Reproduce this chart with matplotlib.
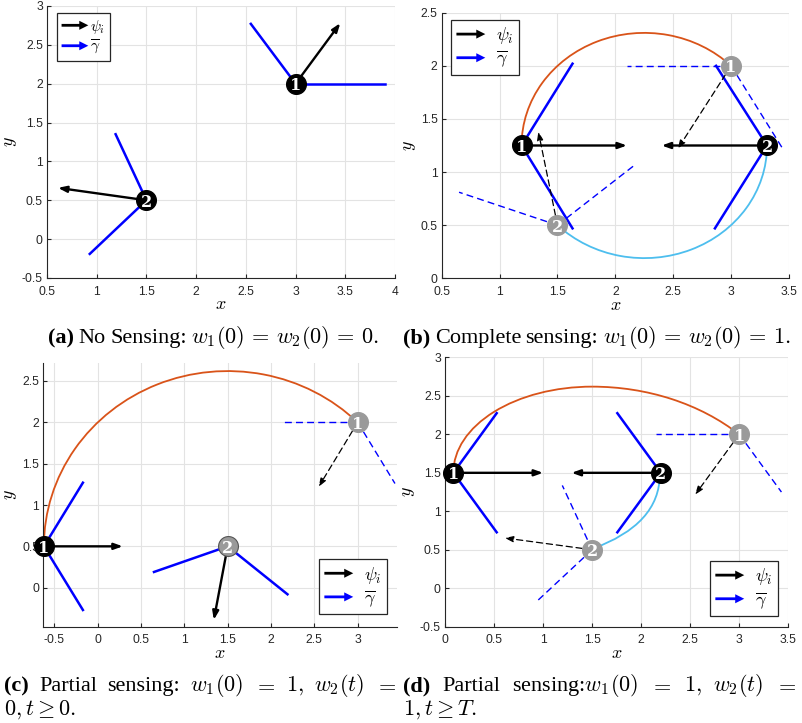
import matplotlib
matplotlib.use('Agg')
import matplotlib.pyplot as plt
from matplotlib import patches
from matplotlib.path import Path
from matplotlib.legend_handler import HandlerPatch

plt.rcParams['mathtext.fontset'] = 'cm'
plt.rcParams['axes.unicode_minus'] = False
plt.rcParams['font.family'] = 'Liberation Sans'

ORANGE = '#D95319'
CYAN = '#4DBEEE'
BLUE = '#0000FF'
GREY = '#9a9a9a'

# =============================================================================
# DATA
# =============================================================================

# (a) no sensing: agents do not move
a_pos = [(3.0, 2.0), (1.5, 0.5)]
a_psi = [(3.45, 2.78), (0.61, 0.66)]
a_cone = [[(2.55, 2.77), (3.90, 2.0)], [(1.19, 1.35), (0.93, -0.19)]]

# (b) complete sensing
b_start = [(3.0, 2.0), (1.5, 0.5)]
b_start_psi = [(2.54, 1.22), (1.335, 1.38)]
b_start_cone = [[(2.10, 2.0), (3.44, 1.23)], [(0.65, 0.81), (2.16, 1.06)]]
b_end = [(1.19, 1.25), (3.31, 1.25)]
b_end_psi = [(2.10, 1.25), (2.40, 1.25)]
b_end_cone = [[(1.63, 2.02), (1.63, 0.47)], [(2.87, 2.0), (2.86, 0.47)]]
b_arc_centre = (2.25, 1.25)
b_arc_radius = 1.06
b_arc_deg = [(45, 180), (225, 360)]

# (c) partial sensing, agent 2 never senses
c_start = [(3.0, 2.0), (1.5, 0.5)]
c_start_psi = [(2.55, 1.22), (1.34, -0.39)]
c_start_cone = [[(2.15, 2.0), (3.43, 1.26)], [(0.65, 0.19), (2.19, -0.08)]]
c_end = [(-0.62, 0.5)]
c_end_psi = [(0.29, 0.5)]
c_end_cone = [[(-0.17, 1.27), (-0.17, -0.27)]]
c_arc_centre = (1.5, 0.5)
c_arc_radius = 2.12
c_arc_deg = (45, 180)

# (d) partial sensing, agent 2 senses after T
d_start = [(3.0, 2.0), (1.5, 0.5)]
d_start_psi = [(2.55, 1.215), (0.61, 0.653)]
d_start_cone = [[(2.15, 2.0), (3.43, 1.25)], [(1.196, 1.336), (0.928, -0.18)]]
d_end = [(0.085, 1.5), (2.2, 1.5)]
d_end_psi = [(1.0, 1.5), (1.29, 1.5)]
d_end_cone = [[(0.527, 2.275), (0.527, 0.727)], [(1.757, 2.275), (1.757, 0.727)]]
# agent 1: first along the (c) circle, then a flatter elliptical turn
d_traj1_arcs = [  # centre, width, height, theta1, theta2
    ((1.5, 0.5), 4.24, 4.24, 45, 90),
    ((1.5, 1.5), 2.83, 2.24, 90, 180),
]
# agent 2: smooth bend from its start to the final spot
d_traj2_ctrl = [(1.50, 0.51), (2.19, 0.83), (2.19, 1.48)]

# =============================================================================
# HELPERS
# =============================================================================

def legend_arrow(legend, orig_handle, xdescent, ydescent, width, height, fontsize):
    return patches.FancyArrow(0, 0.5 * height, width, 0, width=2.0, head_width=6.5,
                              head_length=6.5, length_includes_head=True)


def style(ax, xlim, ylim, xt, yt):
    ax.set_xlim(xlim)
    ax.set_ylim(ylim)
    ax.set_xticks(xt)
    ax.set_yticks(yt)
    ax.set_xticklabels(['%g' % v for v in xt])
    ax.set_yticklabels(['%g' % v for v in yt])
    ax.grid(True, color='#e3e3e3', lw=0.8)
    ax.set_axisbelow(True)
    for s in ['top', 'right']:
        ax.spines[s].set_visible(False)
    for s in ['left', 'bottom']:
        ax.spines[s].set_color('#262626')
        ax.spines[s].set_linewidth(0.8)
    ax.tick_params(direction='in', length=3, labelsize=8.7, colors='#262626', pad=3)
    ax.tick_params(axis='x', pad=5.5)
    ax.set_xlabel('$x$', fontsize=13, labelpad=-1)
    ax.set_ylabel('$y$', fontsize=13, labelpad=2)


def add_legend(ax, anchor, loc, fs, hl, tp):
    h_psi = patches.FancyArrow(0, 0, 1, 0, color='k', lw=0)
    h_gam = patches.FancyArrow(0, 0, 1, 0, color=BLUE, lw=0)
    leg = ax.legend([h_psi, h_gam], [r'$\psi_i$', r'$\overline{\gamma}$'],
                    handler_map={patches.FancyArrow: HandlerPatch(patch_func=legend_arrow)},
                    loc=loc, bbox_to_anchor=anchor, borderaxespad=0, fontsize=fs,
                    fancybox=False, edgecolor='#262626', framealpha=1,
                    handlelength=hl, handletextpad=tp, borderpad=0.3, labelspacing=0.15)
    leg.get_frame().set_linewidth(0.9)
    leg.set_zorder(10)


def draw_agent(ax, pos, num, psi, cone, final, psi_solid=None, edge=None):
    solid = final if psi_solid is None else psi_solid
    ls = '-' if solid else (0, (5, 3))
    lw = 1.8 if solid else 1.0
    for e in cone:
        ax.plot([pos[0], e[0]], [pos[1], e[1]], color=BLUE, lw=lw, ls=ls,
                zorder=2, clip_on=False)
    ax.annotate('', xy=psi, xytext=pos,
                arrowprops=dict(arrowstyle='-|>,head_length=0.5,head_width=0.18',
                                color='k', lw=1.7 if solid else 0.9,
                                ls='-' if solid else (0, (5, 3)),
                                shrinkA=0, shrinkB=0), zorder=3)
    col = 'k' if final else GREY
    ax.scatter([pos[0]], [pos[1]], s=205, c=col, edgecolors=edge or col,
               linewidths=0.8, zorder=5, clip_on=False)
    ax.text(pos[0], pos[1], str(num), color='w', fontsize=11.5, fontweight='bold',
            family='DejaVu Serif', ha='center', va='center_baseline', zorder=6,
            clip_on=False)


W, H = 802, 723
fig = plt.figure(figsize=(W / 100, H / 100), dpi=100)


def px_axes(l, t, r, b):
    return fig.add_axes([l / W, 1 - b / H, (r - l) / W, (b - t) / H])


# =============================================================================
# (a)
# =============================================================================
ax = px_axes(47, 6, 395, 278)
style(ax, (0.5, 4), (-0.5, 3), [0.5, 1, 1.5, 2, 2.5, 3, 3.5, 4],
      [-0.5, 0, 0.5, 1, 1.5, 2, 2.5, 3])
for i in range(2):
    draw_agent(ax, a_pos[i], i + 1, a_psi[i], a_cone[i], True)
add_legend(ax, (0.0287, 0.974), 'upper left', 11, 1.75, 0.1)

# =============================================================================
# (b)
# =============================================================================
ax = px_axes(441.7, 12.7, 789, 278.3)
style(ax, (0.5, 3.5), (0, 2.5), [0.5, 1, 1.5, 2, 2.5, 3, 3.5],
      [0, 0.5, 1, 1.5, 2, 2.5])
for i, col in enumerate([ORANGE, CYAN]):
    ax.add_patch(patches.Arc(b_arc_centre, 2 * b_arc_radius, 2 * b_arc_radius,
                             theta1=b_arc_deg[i][0], theta2=b_arc_deg[i][1],
                             color=col, lw=1.3, zorder=1.5))
for i in range(2):
    draw_agent(ax, b_start[i], i + 1, b_start_psi[i], b_start_cone[i], False)
for i in range(2):
    draw_agent(ax, b_end[i], i + 1, b_end_psi[i], b_end_cone[i], True)
add_legend(ax, (0.0268, 0.9725), 'upper left', 13, 1.6, 0.6)

# =============================================================================
# (c)
# =============================================================================
ax = px_axes(43.3, 363.3, 396.7, 626.7)
style(ax, (-0.627, 3.45), (-0.472, 2.714), [-0.5, 0, 0.5, 1, 1.5, 2, 2.5, 3],
      [0, 0.5, 1, 1.5, 2, 2.5])
ax.add_patch(patches.Arc(c_arc_centre, 2 * c_arc_radius, 2 * c_arc_radius,
                         theta1=c_arc_deg[0], theta2=c_arc_deg[1],
                         color=ORANGE, lw=1.3, zorder=1.5, clip_on=False))
draw_agent(ax, c_start[0], 1, c_start_psi[0], c_start_cone[0], False)
draw_agent(ax, c_start[1], 2, c_start_psi[1], c_start_cone[1], False,
           psi_solid=True, edge='#555555')
draw_agent(ax, c_end[0], 1, c_end_psi[0], c_end_cone[0], True)
add_legend(ax, (0.9726, 0.048), 'lower right', 13, 1.6, 0.6)

# =============================================================================
# (d)
# =============================================================================
ax = px_axes(445, 357.4, 788.3, 626.7)
style(ax, (0, 3.5), (-0.5, 3), [0, 0.5, 1, 1.5, 2, 2.5, 3, 3.5],
      [-0.5, 0, 0.5, 1, 1.5, 2, 2.5, 3])
for centre, w, h, t1, t2 in d_traj1_arcs:
    ax.add_patch(patches.Arc(centre, w, h, theta1=t1, theta2=t2,
                             color=ORANGE, lw=1.3, zorder=1.5))
ax.add_patch(patches.PathPatch(Path(d_traj2_ctrl, [Path.MOVETO, Path.CURVE3, Path.CURVE3]),
                               fc='none', ec=CYAN, lw=1.3, zorder=1.5))
for i in range(2):
    draw_agent(ax, d_start[i], i + 1, d_start_psi[i], d_start_cone[i], False)
for i in range(2):
    draw_agent(ax, d_end[i], i + 1, d_end_psi[i], d_end_cone[i], True)
add_legend(ax, (0.970, 0.040), 'lower right', 13, 1.6, 0.6)

# =============================================================================
# CAPTIONS
# =============================================================================
cap = dict(family='Liberation Serif', fontsize=16, va='baseline')
renderer = fig.canvas.get_renderer()


def caption(x0, x1, y, label, words, justify):
    t = fig.text(x0 / W, 1 - y / H, label, fontweight='bold', **cap)
    x = t.get_window_extent(renderer).x1
    texts = [fig.text(0, 1 - y / H, w, **cap) for w in words]
    widths = [tt.get_window_extent(renderer).width for tt in texts]
    if justify:
        gap = (x1 - x - sum(widths)) / len(words)
    else:
        gap = 4.5
    for tt, w in zip(texts, widths):
        x += gap
        tt.set_x(x / W)
        x += w


caption(48, 377, 343, '(a)', ['No', 'Sensing:', r'$w_1(0) \,=\, w_2(0) \,=\, 0.$'], False)
caption(403, 797, 343, '(b)', ['Complete', 'sensing:',
                               r'$w_1(0) \,=\, w_2(0) \,=\, 1.$'], False)
caption(4, 397, 691, '(c)', ['Partial', 'sensing:', r'$w_1(0)$', r'$=$', r'$1,$',
                             r'$w_2(t)$', r'$=$'], True)
fig.text(4 / W, 1 - 715 / H, r'$0, t \geq 0.$', **cap)
caption(403, 797, 691, '(d)', ['Partial', r'sensing:$w_1(0)$', r'$=$', r'$1,$',
                               r'$w_2(t)$', r'$=$'], True)
fig.text(403 / W, 1 - 715 / H, r'$1, t \geq T.$', **cap)

fig.savefig('out.png', dpi=100)
